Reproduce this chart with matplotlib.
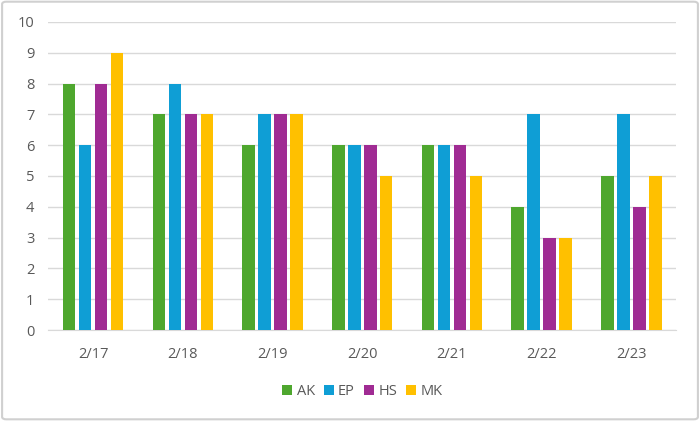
import numpy as np
import matplotlib.pyplot as plt
from matplotlib.patches import FancyBboxPatch

dates = ["2/17", "2/18", "2/19", "2/20", "2/21", "2/22", "2/23"]
series = ["AK", "EP", "HS", "MK"]
ak = [8, 7, 6, 6, 6, 4, 5]
ep = [6, 8, 7, 6, 6, 7, 7]
hs = [8, 7, 7, 6, 6, 3, 4]
mk = [9, 7, 7, 5, 5, 3, 5]
colors = ["#4EA72E", "#0F9ED5", "#A02B93", "#FFC000"]

plt.rcParams["font.family"] = ["Open Sans", "DejaVu Sans"]
TXT = "#595959"
GRID = "#d9d9d9"

fig = plt.figure(figsize=(7.0, 4.21), dpi=100)
ax = fig.add_axes([0.069, 0.216, 0.897, 0.732])

x = np.arange(len(dates))
step = 0.178
width = 0.14
for k, (name, vals) in enumerate(zip(series, [ak, ep, hs, mk])):
    ax.bar(x + (k - 1.5) * step, vals, width=width, color=colors[k],
           label=name, zorder=3)

ax.set_xlim(-0.5, len(dates) - 0.5)
ax.set_ylim(0, 10)
ax.set_yticks(range(0, 11))
ax.set_xticks(x)
ax.set_xticklabels(dates)
ax.yaxis.grid(True, color=GRID, lw=1.0, zorder=0)
for s in ["top", "right", "left"]:
    ax.spines[s].set_visible(False)
ax.spines["bottom"].set_color(GRID)
ax.tick_params(axis="both", length=0, colors=TXT, labelsize=10.5)
ax.tick_params(axis="x", pad=12)
ax.tick_params(axis="y", pad=10)

ax.legend(loc="center", bbox_to_anchor=(0.5, -0.2), ncol=4, frameon=False,
          handlelength=0.7, handleheight=0.7, handletextpad=0.3,
          columnspacing=0.6, fontsize=10.5, labelcolor=TXT,
          bbox_transform=ax.transAxes)

fig.patches.append(FancyBboxPatch((0.003, 0.004), 0.994, 0.992,
                                  boxstyle="round,pad=0,rounding_size=0.006",
                                  transform=fig.transFigure, fill=False,
                                  ec="#d0d0d0", lw=1.5))

fig.savefig("out.png", dpi=100)
